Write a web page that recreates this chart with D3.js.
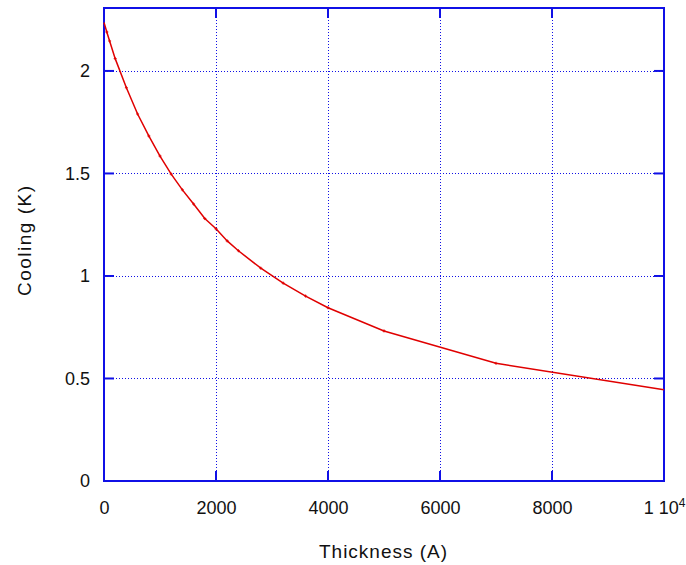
<!DOCTYPE html>
<html>
<head>
<meta charset="utf-8">
<script src="https://cdn.jsdelivr.net/npm/d3@7"></script>
<style>
  body { margin: 0; background: #fff; }
  svg text { font-family: "Liberation Sans", Arial, sans-serif; fill: #111; }
</style>
</head>
<body>
<div id="chart"></div>
<script>
// ——— DATA —————————————————————————————————————————————————————————
const thickness = [0, 50, 100, 200, 400, 600, 800, 1000, 1200, 1400, 1600, 1800,
    2000, 2200, 2400, 2800, 3200, 3600, 4000, 5000, 7000, 10000];
const cooling = [2.236, 2.19, 2.146, 2.06, 1.918, 1.79, 1.683, 1.585, 1.497, 1.42, 1.351, 1.28,
    1.23, 1.171, 1.123, 1.038, 0.965, 0.902, 0.845, 0.732, 0.574, 0.445];
const xTicks = [0, 2000, 4000, 6000, 8000, 10000];
const yTicks = [0, 0.5, 1, 1.5, 2];

const width = 686;
const height = 565;
const margin = { top: 8, right: 22, bottom: 84, left: 104 };
const blue = "#1010e6";

const svg = d3.select("#chart").append("svg")
    .attr("width", width)
    .attr("height", height);

// ——— SCALES ————————————————————————————————————————————————————————
const x = d3.scaleLinear().domain([0, 10000]).range([margin.left, width - margin.right]);
const y = d3.scaleLinear().domain([0, 2.307]).range([height - margin.bottom, margin.top]);

const x0 = x.range()[0], x1 = x.range()[1];
const y0 = y.range()[0], y1 = y.range()[1];

// ——— GRID ——————————————————————————————————————————————————————————
const grid = svg.append("g")
    .attr("stroke", blue)
    .attr("stroke-width", 1)
    .attr("stroke-dasharray", "1,2");
grid.selectAll(".gx").data(xTicks.slice(1, -1)).enter().append("line")
    .attr("x1", d => x(d) + 0.5).attr("x2", d => x(d) + 0.5)
    .attr("y1", y1).attr("y2", y0);
grid.selectAll(".gy").data(yTicks.slice(1)).enter().append("line")
    .attr("x1", x0).attr("x2", x1)
    .attr("y1", d => Math.round(y(d)) + 0.5).attr("y2", d => Math.round(y(d)) + 0.5);

// ——— AXES ——————————————————————————————————————————————————————————
const xaxis = d3.axisBottom(x).tickValues(xTicks).tickSize(0).tickPadding(20)
    .tickFormat(d => d === 10000 ? "" : d);
const yaxis = d3.axisLeft(y).tickValues(yTicks).tickSize(0).tickPadding(14)
    .tickFormat(d => d);

const gx = svg.append("g").attr("transform", `translate(0,${y0})`).call(xaxis);
const gy = svg.append("g").attr("transform", `translate(${x0},0)`).call(yaxis);
[gx, gy].forEach(g => {
    g.select(".domain").remove();
    g.selectAll("text").style("font-size", "18px").attr("fill", "#111");
});

// "1 10^4" label
const last = gx.selectAll(".tick").filter(d => d === 10000).select("text");
last.text(null);
last.append("tspan").text("1 10");
last.append("tspan").attr("dy", "-0.6em").style("font-size", "12px").text("4");

// inward major ticks on all four sides
const tk = svg.append("g").attr("stroke", blue).attr("stroke-width", 2);
xTicks.forEach(d => {
    tk.append("line").attr("x1", x(d)).attr("x2", x(d)).attr("y1", y0).attr("y2", y0 - 10);
    tk.append("line").attr("x1", x(d)).attr("x2", x(d)).attr("y1", y1).attr("y2", y1 + 10);
});
yTicks.forEach(d => {
    tk.append("line").attr("x1", x0).attr("x2", x0 + 10).attr("y1", y(d)).attr("y2", y(d));
    tk.append("line").attr("x1", x1).attr("x2", x1 - 10).attr("y1", y(d)).attr("y2", y(d));
});

// frame
svg.append("rect")
    .attr("x", x0).attr("y", y1)
    .attr("width", x1 - x0).attr("height", y0 - y1)
    .attr("fill", "none").attr("stroke", blue).attr("stroke-width", 2);

// ——— LINE ——————————————————————————————————————————————————————————
const pts = thickness.map((t, i) => ({ t, c: cooling[i] }));
const line = d3.line().x(d => x(d.t)).y(d => y(d.c));

svg.append("path")
    .datum(pts)
    .attr("d", line)
    .attr("fill", "none")
    .attr("stroke", "#e00000")
    .attr("stroke-width", 1.5);

// tiny point markers
svg.selectAll(".mk").data(pts.slice(1, -1)).enter().append("path")
    .attr("d", d => `M${x(d.t) - 1.5},${y(d.c)}h3M${x(d.t)},${y(d.c) - 1.5}v3`)
    .attr("stroke", "#e00000")
    .attr("stroke-width", 1);

// ——— LABELS ————————————————————————————————————————————————————————
svg.append("text")
    .attr("x", 383)
    .attr("y", 558)
    .attr("text-anchor", "middle")
    .attr("textLength", 128)
    .style("font-size", "19px")
    .text("Thickness (A)");

svg.append("text")
    .attr("transform", `translate(31,241) rotate(-90)`)
    .attr("text-anchor", "middle")
    .attr("textLength", 110)
    .style("font-size", "19px")
    .text("Cooling (K)");
</script>
</body>
</html>
